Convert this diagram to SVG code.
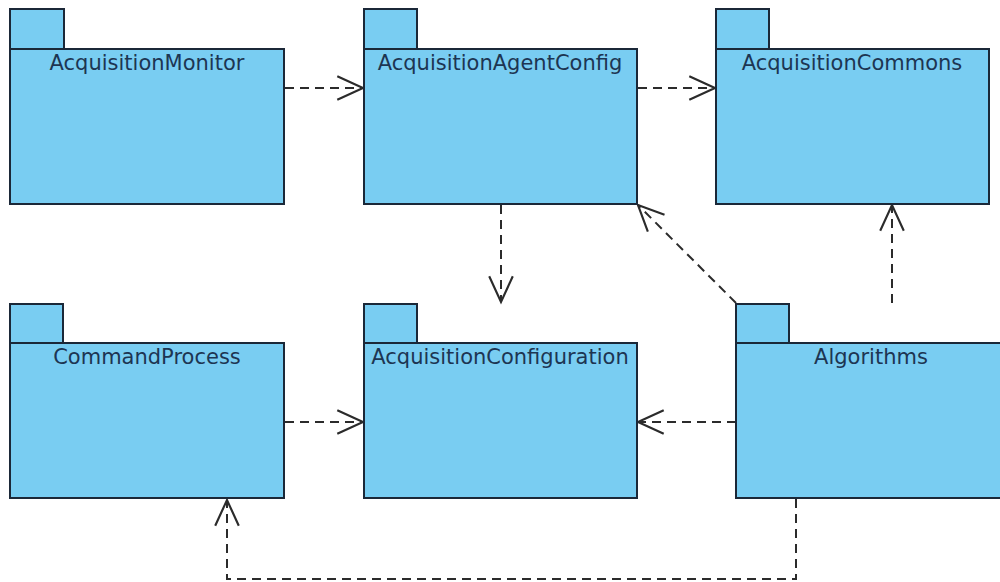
<svg xmlns="http://www.w3.org/2000/svg" width="1000" height="582" viewBox="0 0 1000 582">
<style>
.pk{fill:#79CDF2;stroke:#1b2838;stroke-width:2}
.lbl{font-family:"DejaVu Sans","Liberation Sans",sans-serif;font-size:21px;fill:#1d3552;text-anchor:middle}
.dep{fill:none;stroke:#2b2b2b;stroke-width:2;stroke-dasharray:9,6;marker-end:url(#open)}
</style>
<defs>
<marker id="open" markerUnits="userSpaceOnUse" markerWidth="30" markerHeight="30" viewBox="-26 -14 28 28" refX="0" refY="0" orient="auto" overflow="visible">
<path d="M-24,-11 L0,0 L-24,11" fill="none" stroke="#2b2b2b" stroke-width="2" stroke-dasharray="none"/>
</marker>
</defs>
<rect width="1000" height="582" fill="#ffffff"/>
<g id="connectors">
<line class="dep" x1="285" y1="88" x2="363" y2="88"/>
<line class="dep" x1="638" y1="88" x2="715" y2="88"/>
<line class="dep" x1="501" y1="205" x2="501" y2="302"/>
<line class="dep" x1="736" y1="303" x2="638" y2="205"/>
<line class="dep" x1="892" y1="303" x2="892" y2="205"/>
<line class="dep" x1="736" y1="422" x2="638" y2="422"/>
<line class="dep" x1="285" y1="422" x2="363" y2="422"/>
<polyline class="dep" points="796,499 796,579 227,579 227,500"/>
</g>
<g id="AcquisitionMonitor">
<rect class="pk" x="10" y="9" width="54" height="40"/>
<rect class="pk" x="10" y="49" width="274" height="155"/>
<text class="lbl" x="147" y="70">AcquisitionMonitor</text>
</g>
<g id="AcquisitionAgentConfig">
<rect class="pk" x="364" y="9" width="53" height="40"/>
<rect class="pk" x="364" y="49" width="273" height="155"/>
<text class="lbl" x="500" y="70">AcquisitionAgentConfig</text>
</g>
<g id="AcquisitionCommons">
<rect class="pk" x="716" y="9" width="53" height="40"/>
<rect class="pk" x="716" y="49" width="273" height="155"/>
<text class="lbl" x="852" y="70">AcquisitionCommons</text>
</g>
<g id="CommandProcess">
<rect class="pk" x="10" y="304" width="53" height="39"/>
<rect class="pk" x="10" y="343" width="274" height="155"/>
<text class="lbl" x="147" y="364">CommandProcess</text>
</g>
<g id="AcquisitionConfiguration">
<rect class="pk" x="364" y="304" width="53" height="39"/>
<rect class="pk" x="364" y="343" width="273" height="155"/>
<text class="lbl" x="500" y="364">AcquisitionConfiguration</text>
</g>
<g id="Algorithms">
<rect class="pk" x="736" y="304" width="53" height="39"/>
<rect class="pk" x="736" y="343" width="270" height="155"/>
<text class="lbl" x="871" y="364">Algorithms</text>
</g>
</svg>
